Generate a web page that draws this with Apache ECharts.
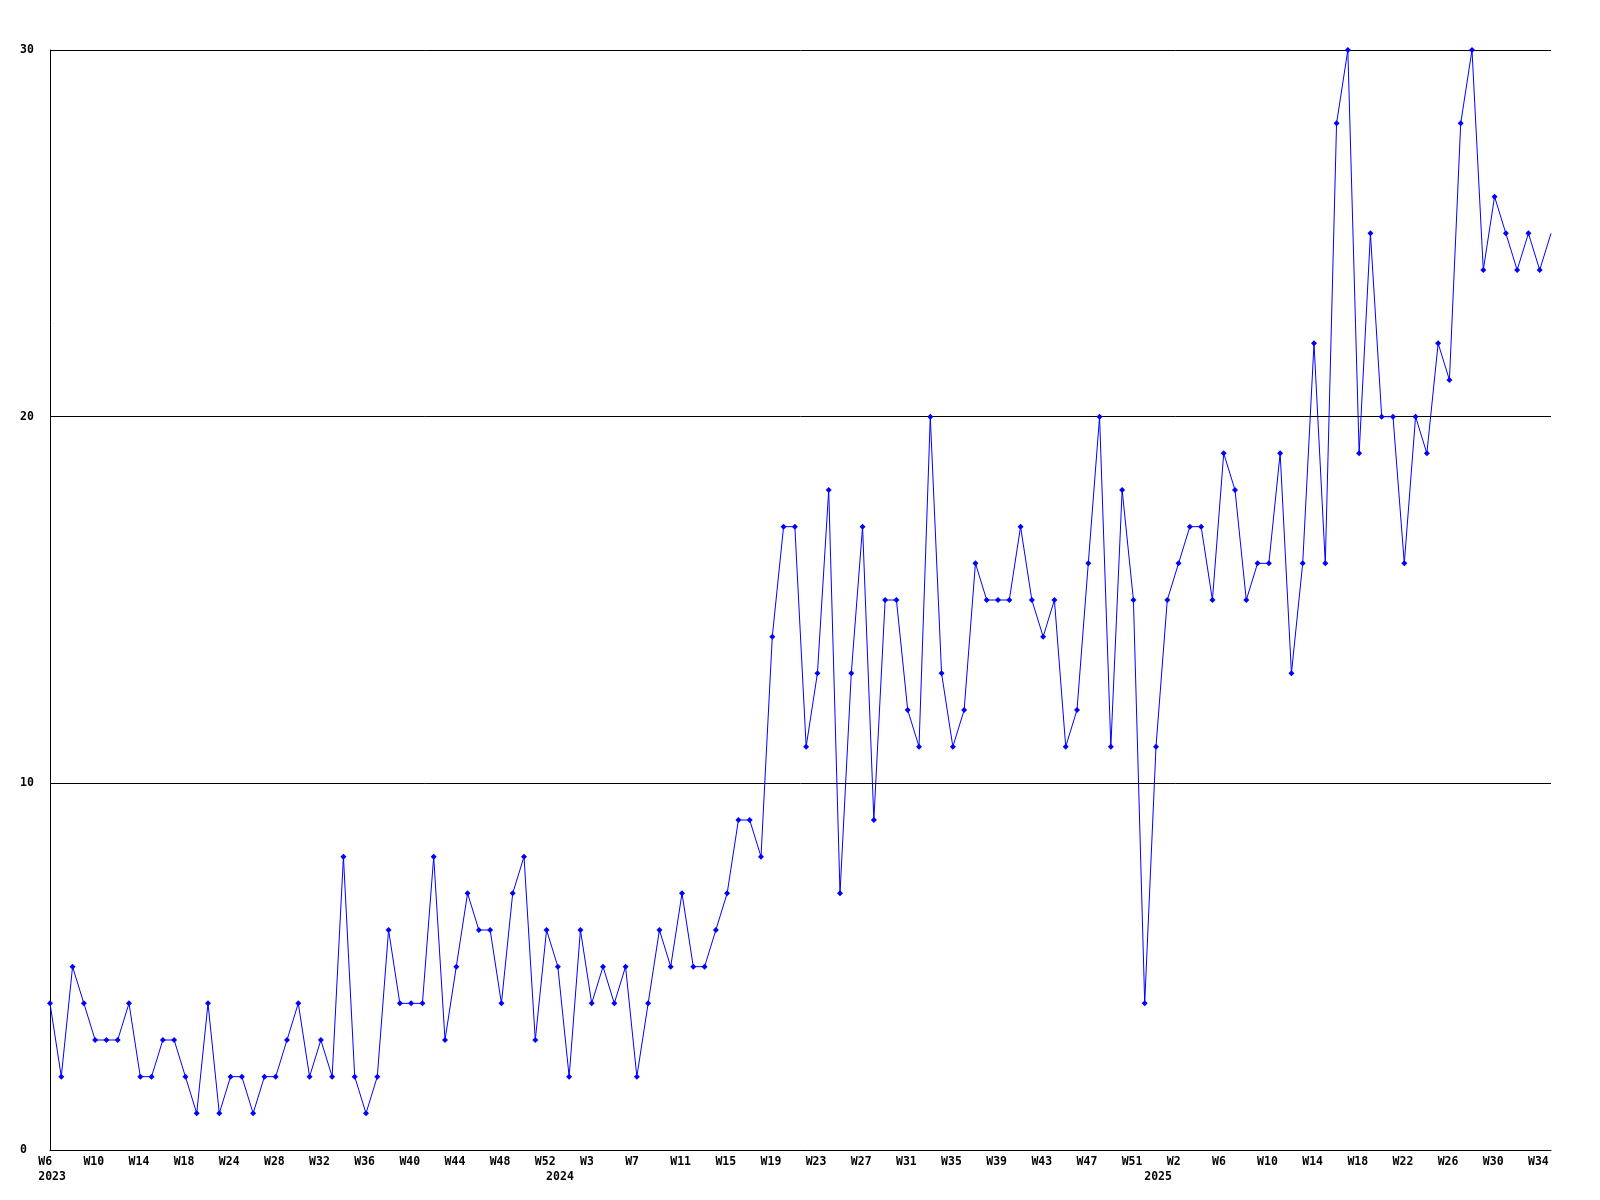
<!DOCTYPE html>
<html>
<head>
<meta charset="utf-8">
<script src="https://cdn.jsdelivr.net/npm/echarts@6/dist/echarts.min.js"></script>
<style>html,body{margin:0;padding:0;background:#fff}#c{width:1600px;height:1200px}</style>
</head>
<body>
<div id="c"></div>
<script>
// Week numbers per year (categories)
const weeks2023 = [6,7,8,9,10,11,12,13,14,15,16,17,18,20,21,22,24,25,26,27,28,29,30,31,32,33,34,35,36,37,38,39,40,41,42,43,44,45,46,47,48,49,50,51,52];
const weeks2024 = [0,1,2,3,4,5,6,7,8,9,10,11,12,13,14,15,16,17,18,19,20,21,22,23,24,25,26,27,28,29,30,31,32,33,34,35,36,37,38,39,40,41,42,43,44,45,46,47,48,49,50,51,52];
const weeks2025 = [0,1,2,3,4,5,6,7,8,9,10,11,12,13,14,15,16,17,18,19,20,21,22,23,24,25,26,27,28,29,30,31,32,33,34,35];

// Weekly values
const values2023 = [4,2,5,4,3,3,3,4,2,2,3,3,2,1,4,1,2,2,1,2,2,3,4,2,3,2,8,2,1,2,6,4,4,4,8,3,5,7,6,6,4,7,8,3,6];
const values2024 = [5,2,6,4,5,4,5,2,4,6,5,7,5,5,6,7,9,9,8,14,17,17,11,13,18,7,13,17,9,15,15,12,11,20,13,11,12,16,15,15,15,17,15,14,15,11,12,16,20,11,18,15,4];
const values2025 = [11,15,16,17,17,15,19,18,15,16,16,19,13,16,22,16,28,30,19,25,20,20,16,20,19,22,21,28,30,24,26,25,24,25,24,25];

const yTicks = [0, 10, 20, 30];
const labelEvery = 4;

const years = [
  { year: 2023, weeks: weeks2023, values: values2023 },
  { year: 2024, weeks: weeks2024, values: values2024 },
  { year: 2025, weeks: weeks2025, values: values2025 }
];

const categories = [];
const values = [];
const firstOfYear = {};
years.forEach(y => {
  y.weeks.forEach((w, i) => {
    if (i === 0) firstOfYear[categories.length] = y.year;
    categories.push(y.year + '-W' + w);
    values.push(y.values[i]);
  });
});
const lastIdx = values.length - 1;

const FONT = '"DejaVu Sans Mono", "Liberation Mono", monospace';
const LH = 15;
function rs(n) {
  const d = 23.4 - 6.9 * n;
  return { fontFamily: FONT, fontWeight: 'bold', fontSize: 11.5, color: '#000', lineHeight: LH,
           padding: d >= 0 ? [0, d, 0, 0] : [0, 0, 0, -d] };
}

const chart = echarts.init(document.getElementById('c'));
chart.setOption({
  animation: false,
  backgroundColor: '#fff',
  grid: { left: 50, right: 49, top: 50, bottom: 50, containLabel: false, outerBoundsMode: 'none' },
  xAxis: {
    type: 'category',
    data: categories,
    boundaryGap: false,
    axisLine: { show: true, lineStyle: { color: '#000', width: 1 } },
    axisTick: { show: false },
    splitLine: { show: false },
    axisLabel: {
      interval: 0,
      margin: 5,
      lineHeight: LH,
      hideOverlap: false,
      formatter: function (val, idx) {
        const w = 'W' + val.split('-W')[1];
        const yr = firstOfYear[idx];
        let top = '';
        if (idx % labelEvery === 0) top = '{w' + w.length + '|' + w + '}';
        else if (yr !== undefined) top = '{e| }';
        if (yr !== undefined) return top + '\n{y4|' + yr + '}';
        return top;
      },
      rich: { w2: rs(2), w3: rs(3), y4: rs(4), e: rs(1) }
    }
  },
  yAxis: {
    type: 'value',
    min: yTicks[0],
    max: yTicks[yTicks.length - 1],
    interval: 10,
    axisLine: { show: true, lineStyle: { color: '#000', width: 1 } },
    axisTick: { show: false },
    splitLine: { show: true, lineStyle: { color: '#000', width: 1 } },
    axisLabel: {
      align: 'left',
      margin: 30,
      padding: [3, 0, 0, 0],
      fontFamily: FONT,
      fontWeight: 'bold',
      fontSize: 11.5,
      color: '#000'
    }
  },
  series: [{
    type: 'line',
    data: values,
    symbol: function (v, p) { return p.dataIndex === lastIdx ? 'none' : 'diamond'; },
    symbolSize: 6,
    showAllSymbol: true,
    lineStyle: { color: '#0000ff', width: 1 },
    itemStyle: { color: '#0000ff' },
    emphasis: { disabled: true }
  }]
});
</script>
</body>
</html>
